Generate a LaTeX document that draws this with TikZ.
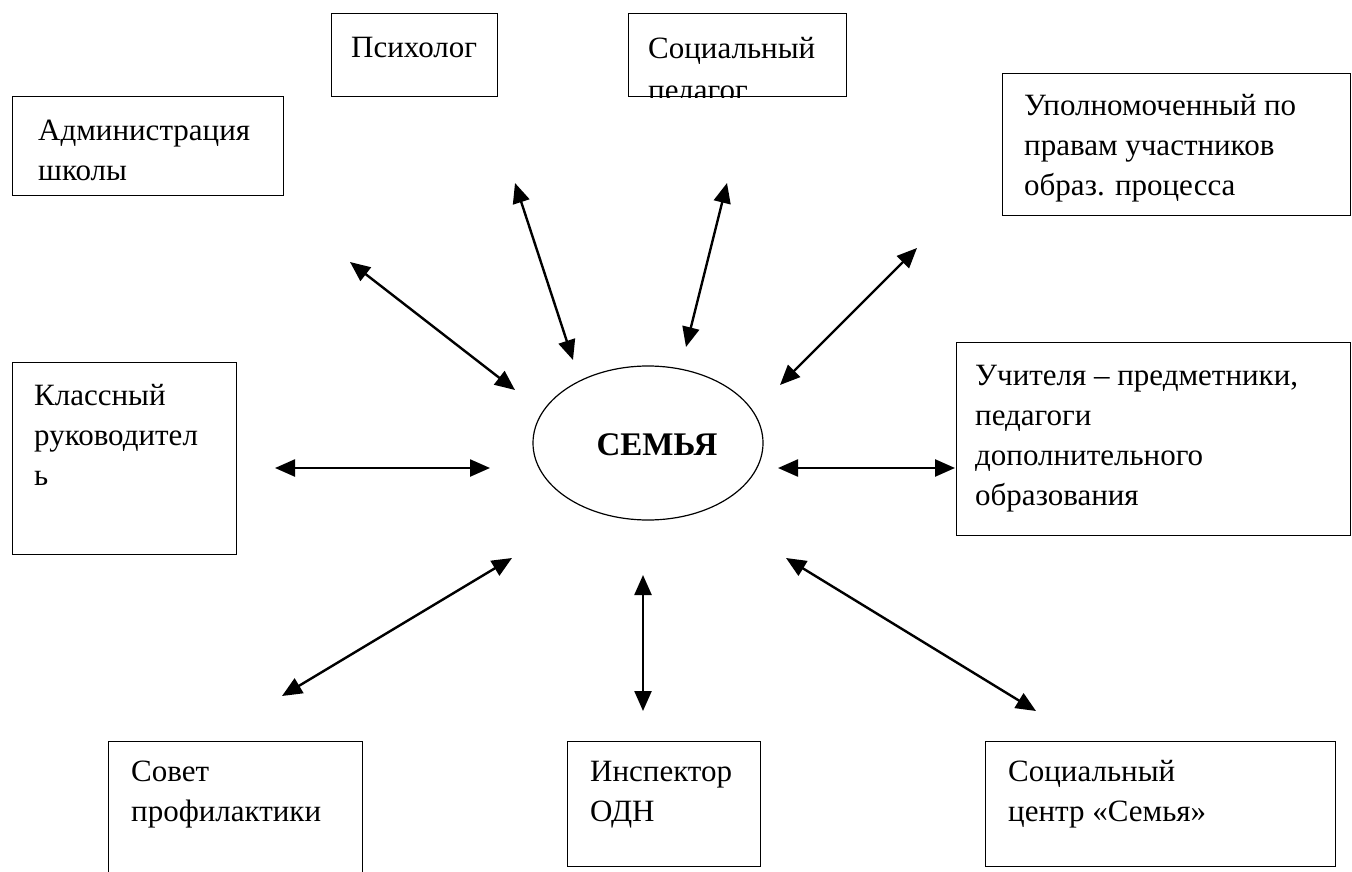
\documentclass[tikz,border=0pt]{standalone}
\usepackage{fontspec}
\setmainfont{Liberation Serif}
\newfontfamily\tnr{Liberation Serif}
\usetikzlibrary{arrows.meta,shapes.geometric}
\begin{document}
\begin{tikzpicture}[x=1pt,y=-1pt,
  box/.style={draw,line width=1.2pt,inner sep=0pt,anchor=north west},
  txt/.style={anchor=north west,inner sep=0pt,align=left,font=\tnr\fontsize{31}{40}\selectfont},
  link/.style={line width=2.4pt,{Triangle[length=20pt,width=17pt]}-{Triangle[length=20pt,width=17pt]}}]
\useasboundingbox (0,0) rectangle (1352,872);
% boxes
\node[box,minimum width=166pt,minimum height=83pt] (psy) at (331,13) {};
\node[box,minimum width=218pt,minimum height=83pt] (soc) at (628,13) {};
\node[box,minimum width=271pt,minimum height=99pt] (adm) at (12,96) {};
\node[box,minimum width=348pt,minimum height=142pt] (upo) at (1002,73) {};
\node[box,minimum width=224pt,minimum height=192pt] (kla) at (12,362) {};
\node[box,minimum width=394pt,minimum height=193pt] (uch) at (956,342) {};
\node[box,minimum width=254pt,minimum height=160pt] (sov) at (108,741) {};
\node[box,minimum width=193pt,minimum height=125pt] (ins) at (567,741) {};
\node[box,minimum width=350pt,minimum height=125pt] (scn) at (985,741) {};
% texts
\node[txt] (tpsy) at (351,29) {\strut Психолог};
\begin{scope}
\clip (soc.north west) rectangle (soc.south east);
\node[txt] (tsoc) at (648,30) {\strut Социальный\\[2pt]педагог};
\end{scope}
\node[txt] (tadm) at (38,112) {\strut Администрация\\школы};
\node[txt] (tupo) at (1024,87) {\strut Уполномоченный по\\правам участников\\образ. процесса};
\node[txt] (tkla) at (34,377) {\strut Классный\\руководител\\ь};
\node[txt] (tuch) at (975,357) {\strut Учителя – предметники,\\педагоги\\дополнительного\\образования};
\node[txt] (tsov) at (131,753) {\strut Совет\\профилактики};
\node[txt] (tins) at (590,753) {\strut Инспектор\\ОДН};
\node[txt] (tscn) at (1008,753) {\strut Социальный\\центр «Семья»};
% centre
\node[draw,ellipse,line width=1.2pt,minimum width=230pt,minimum height=154pt] (fam) at (648,443) {};
\node[font=\tnr\bfseries\fontsize{33}{38}\selectfont,inner sep=0pt,anchor=base] (tfam) at (657,455) {СЕМЬЯ};
% arrow ends
\coordinate (a1) at (350,262); \coordinate (b1) at (515,390);
\coordinate (a2) at (515,183); \coordinate (b2) at (573,360);
\coordinate (a3) at (727,183); \coordinate (b3) at (686,347);
\coordinate (a4) at (917,248); \coordinate (b4) at (780,385);
\coordinate (a5) at (275,468); \coordinate (b5) at (490,468);
\coordinate (a6) at (778,468); \coordinate (b6) at (955,468);
\coordinate (a7) at (512,558); \coordinate (b7) at (282,696);
\coordinate (a8) at (643,575); \coordinate (b8) at (643,711);
\coordinate (a9) at (786,558); \coordinate (b9) at (1036,711);
\foreach \i in {1,...,9}{\draw[link] (a\i) -- (b\i);}
\end{tikzpicture}
\end{document}
